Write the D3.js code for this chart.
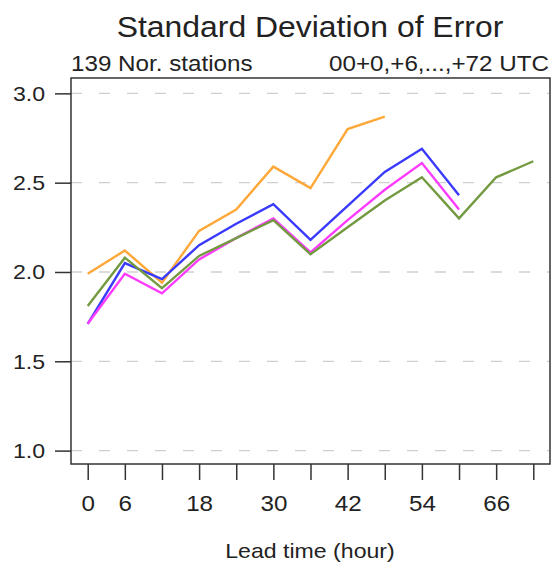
<!DOCTYPE html>
<html>
<head>
<meta charset="utf-8">
<script src="https://cdn.jsdelivr.net/npm/d3@7"></script>
<style>
  body { margin: 0; background: #fff; }
  text { font-family: "Liberation Sans", Arial, sans-serif; fill: #222; }
</style>
</head>
<body>
<script>
// lead times (hour)
var leadTimes = [0, 6, 12, 18, 24, 30, 36, 42, 48, 54, 60, 66, 72];
var xTickLabels = [0, 6, 18, 30, 42, 54, 66];
var yTicks = [1.0, 1.5, 2.0, 2.5, 3.0];

// series values (null = no data)
var orangeVals = [1.99, 2.12, 1.94, 2.23, 2.35, 2.59, 2.47, 2.80, 2.87, null, null, null, null];
var blueVals = [1.71, 2.05, 1.96, 2.15, 2.27, 2.38, 2.18, 2.37, 2.56, 2.69, 2.43, null, null];
var magentaVals = [1.71, 1.99, 1.88, 2.07, 2.19, 2.30, 2.11, 2.29, 2.46, 2.61, 2.35, null, null];
var greenVals = [1.81, 2.08, 1.91, 2.09, 2.19, 2.29, 2.10, 2.25, 2.40, 2.53, 2.30, 2.53, 2.62];

var seriesColors = ['#ffa83a', '#3a3aff', '#ff3aff', '#739a40'];
var seriesList = [orangeVals, blueVals, magentaVals, greenVals];

var width = 552, height = 567;
var box = {left: 71, right: 550, top: 78, bottom: 464};

var svg = d3.select('body').append('svg')
    .attr('width', width)
    .attr('height', height);

var x = d3.scaleLinear().domain([-2.7, 74.7]).range([box.left, box.right]);
var y = d3.scaleLinear().domain([0.925, 3.086]).range([box.bottom, box.top]);

// title
svg.append('text')
    .attr('x', 310).attr('y', 37)
    .attr('text-anchor', 'middle')
    .style('font-size', '29px')
    .text('Standard Deviation of Error');

svg.append('text')
    .attr('x', 71).attr('y', 71)
    .style('font-size', '22px')
    .text('139 Nor. stations');

svg.append('text')
    .attr('x', 549).attr('y', 71)
    .attr('text-anchor', 'end')
    .style('font-size', '22px')
    .text('00+0,+6,...,+72 UTC');

// grid lines
svg.append('g')
    .selectAll('line')
    .data(yTicks)
    .enter()
    .append('line')
        .attr('x1', box.left).attr('x2', box.right)
        .attr('y1', function (d) { return y(d); })
        .attr('y2', function (d) { return y(d); })
        .attr('stroke', '#cfcfcf')
        .attr('stroke-width', 1.3)
        .attr('stroke-dasharray', '11,17');

// lines
var line = d3.line()
    .defined(function (d) { return d.v !== null; })
    .x(function (d) { return x(d.t); })
    .y(function (d) { return y(d.v); });

seriesList.forEach(function (vals, i) {
    var pts = leadTimes.map(function (t, j) { return {t: t, v: vals[j]}; });
    svg.append('path')
        .datum(pts)
        .attr('d', line)
        .attr('fill', 'none')
        .attr('stroke', seriesColors[i])
        .attr('stroke-width', 2.4);
});

// box
svg.append('rect')
    .attr('x', box.left).attr('y', box.top)
    .attr('width', box.right - box.left)
    .attr('height', box.bottom - box.top)
    .attr('fill', 'none')
    .attr('stroke', '#333')
    .attr('stroke-width', 1.5);

// y axis
var yAxis = d3.axisLeft(y)
    .tickValues(yTicks)
    .tickSize(16)
    .tickPadding(10)
    .tickFormat(d3.format('.1f'));
var gy = svg.append('g')
    .attr('transform', 'translate(' + box.left + ',0)')
    .call(yAxis);
gy.select('.domain').remove();
gy.selectAll('line').attr('stroke', '#333').attr('stroke-width', 1.5);
gy.selectAll('text').style('font-size', '21px').attr('fill', '#222');

// x axis
var xAxis = d3.axisBottom(x)
    .tickValues(leadTimes)
    .tickSize(16)
    .tickPadding(15)
    .tickFormat(function (d) { return xTickLabels.indexOf(d) >= 0 ? d : ''; });
var gx = svg.append('g')
    .attr('transform', 'translate(0,' + box.bottom + ')')
    .call(xAxis);
gx.select('.domain').remove();
gx.selectAll('line').attr('stroke', '#333').attr('stroke-width', 1.5);
gx.selectAll('text').style('font-size', '22px').attr('fill', '#222');

svg.append('text')
    .attr('x', 310).attr('y', 558)
    .attr('text-anchor', 'middle')
    .style('font-size', '21px')
    .text('Lead time (hour)');

// the original text is a bit wider than Liberation Sans, stretch it a little
svg.selectAll('text').each(function () {
    var len = this.getComputedTextLength();
    if (len > 0) {
        d3.select(this)
            .attr('textLength', len * 1.1)
            .attr('lengthAdjust', 'spacingAndGlyphs');
    }
});
</script>
</body>
</html>
